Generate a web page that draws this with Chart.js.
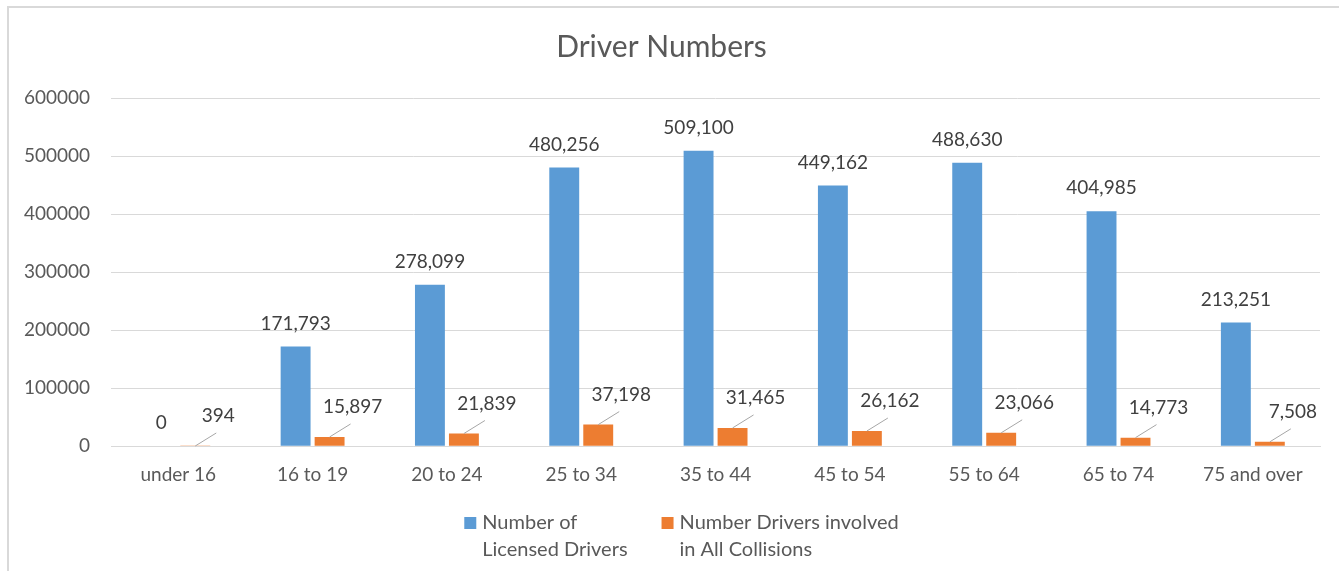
<!DOCTYPE html>
<html>
<head>
<meta charset="utf-8">
<title>Driver Numbers</title>
<script src="https://cdn.jsdelivr.net/npm/chart.js@4/dist/chart.umd.min.js"></script>
<style>
  html, body { margin: 0; padding: 0; background: #ffffff; }
  #wrap { position: relative; width: 1339px; height: 571px; }
</style>
</head>
<body>
<div id="wrap"><canvas id="driverChart" width="1339" height="571"></canvas></div>
<script>
// Datos
const ageGroups = ['under 16', '16 to 19', '20 to 24', '25 to 34', '35 to 44', '45 to 54', '55 to 64', '65 to 74', '75 and over'];
const licensedDrivers = [0, 171793, 278099, 480256, 509100, 449162, 488630, 404985, 213251];
const collisionDrivers = [394, 15897, 21839, 37198, 31465, 26162, 23066, 14773, 7508];
const seriesNames = [['Number of', 'Licensed Drivers'], ['Number Drivers involved', 'in All Collisions']];
const yTicks = [0, 100000, 200000, 300000, 400000, 500000, 600000];

const FONT = 'Lato, "Liberation Sans", sans-serif';
const BLUE = '#5b9bd5';
const ORANGE = '#ed7d31';

document.addEventListener('DOMContentLoaded', function () {
    const canvas = document.getElementById('driverChart');
    const ctx = canvas.getContext('2d');

    // marco gris exterior del gráfico
    const framePlugin = {
        id: 'frame',
        beforeDraw(chart) {
            const c = chart.ctx;
            c.save();
            c.strokeStyle = '#d9d9d9';
            c.lineWidth = 2;
            c.strokeRect(8, 7, 2000, 2000);
            c.restore();
        }
    };

    // etiquetas de datos (azul encima, naranja desplazada con línea guía)
    const labelPlugin = {
        id: 'valueLabels',
        afterDatasetsDraw(chart) {
            const c = chart.ctx;
            c.save();
            c.font = '19px ' + FONT;
            c.fillStyle = '#404040';
            c.textAlign = 'center';
            c.textBaseline = 'middle';
            chart.getDatasetMeta(0).data.forEach(function (bar, i) {
                c.fillText(licensedDrivers[i].toLocaleString('en-US'), bar.x, bar.y - 23);
            });
            chart.getDatasetMeta(1).data.forEach(function (bar, i) {
                c.strokeStyle = '#a6a6a6';
                c.lineWidth = 1;
                c.beginPath();
                c.moveTo(bar.x, bar.y);
                c.lineTo(bar.x + 21, bar.y - 13);
                c.stroke();
                c.fillText(collisionDrivers[i].toLocaleString('en-US'), bar.x + 23, bar.y - 30);
            });
            c.restore();
        }
    };

    // leyenda de dos líneas como en Excel
    const legendPlugin = {
        id: 'twoLineLegend',
        afterDraw(chart) {
            const c = chart.ctx;
            c.save();
            c.font = '20px ' + FONT;
            c.textBaseline = 'middle';
            c.textAlign = 'left';
            const box = 12, gapBox = 6, gapItem = 34, lineH = 27;
            const widths = seriesNames.map(function (lines) {
                return box + gapBox + Math.max.apply(null, lines.map(function (t) { return c.measureText(t).width; }));
            });
            const total = widths[0] + gapItem + widths[1];
            let x = chart.width / 2 + 12 - total / 2;
            const y0 = 523;
            chart.data.datasets.forEach(function (ds, i) {
                c.fillStyle = ds.backgroundColor;
                c.fillRect(x, y0 - box / 2, box, box);
                c.fillStyle = '#595959';
                seriesNames[i].forEach(function (t, k) {
                    c.fillText(t, x + box + gapBox, y0 + k * lineH);
                });
                x += widths[i] + gapItem;
            });
            c.restore();
        }
    };

    new Chart(ctx, {
        type: 'bar',
        data: {
            labels: ageGroups,
            datasets: [{
                label: seriesNames[0].join(' '),
                data: licensedDrivers,
                backgroundColor: BLUE,
                categoryPercentage: 0.506,
                barPercentage: 0.88
            }, {
                label: seriesNames[1].join(' '),
                data: collisionDrivers,
                backgroundColor: ORANGE,
                categoryPercentage: 0.506,
                barPercentage: 0.88
            }]
        },
        options: {
            responsive: false,
            animation: false,
            layout: { padding: { left: 3, right: 19, top: 8, bottom: 68 } },
            plugins: {
                legend: { display: false },
                tooltip: { enabled: false },
                title: {
                    display: true,
                    text: 'Driver Numbers',
                    color: '#595959',
                    font: { family: FONT, size: 30, weight: 'normal' },
                    padding: { top: 21, bottom: 33 }
                }
            },
            scales: {
                x: {
                    grid: { display: false, drawTicks: false },
                    border: { display: true, color: '#d9d9d9', width: 1 },
                    ticks: { color: '#595959', font: { family: FONT, size: 19 }, padding: 17, maxRotation: 0 }
                },
                y: {
                    min: 0,
                    max: 600000,
                    afterBuildTicks(scale) { scale.ticks = yTicks.map(function (v) { return { value: v }; }); },
                    grid: { color: '#d9d9d9', drawTicks: false },
                    border: { display: false },
                    ticks: { color: '#595959', font: { family: FONT, size: 19 }, padding: 21, callback: function (v) { return String(v); } }
                }
            }
        },
        plugins: [framePlugin, labelPlugin, legendPlugin]
    });
});
</script>
</body>
</html>
